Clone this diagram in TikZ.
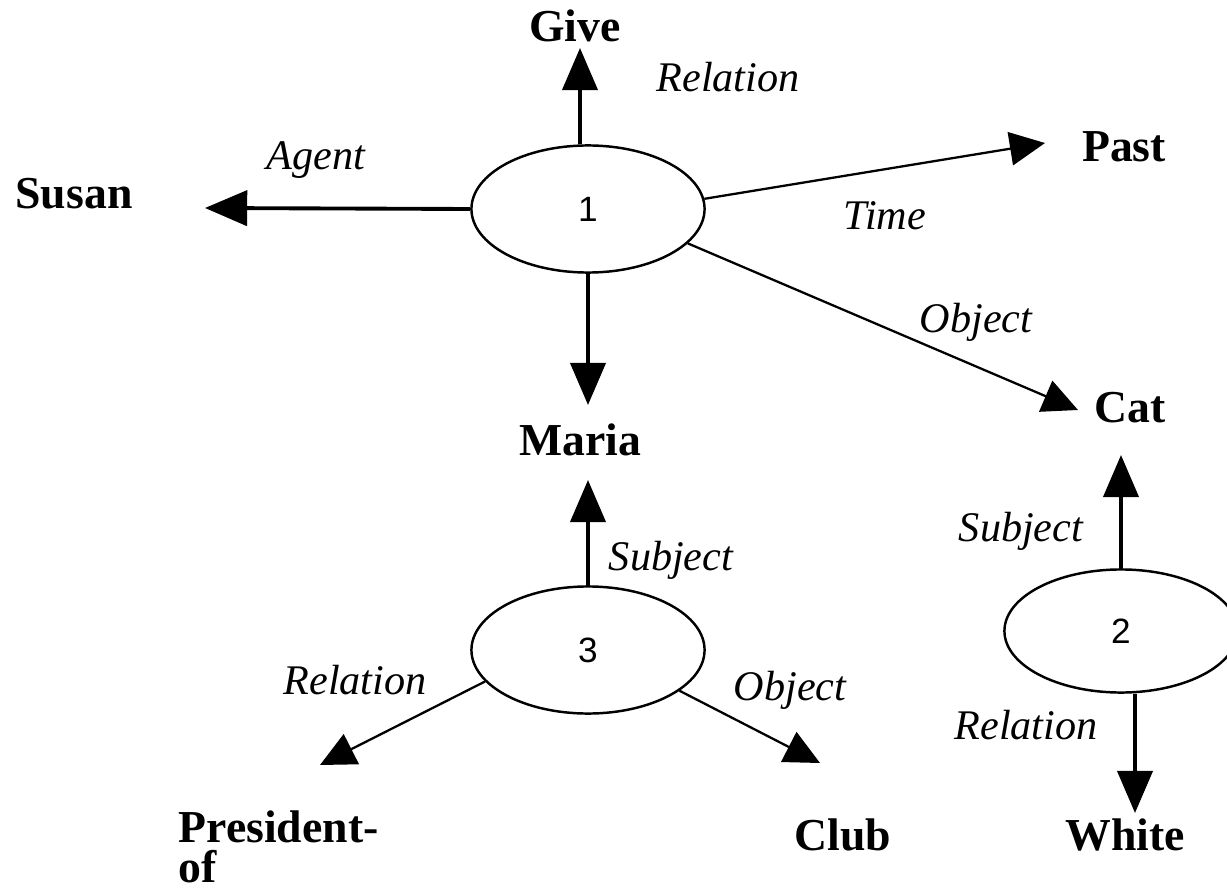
\documentclass[tikz,border=0pt]{standalone}
\usepackage{fontspec}
\setmainfont{Liberation Serif}
\newfontfamily\numfont{Liberation Sans}
\usetikzlibrary{shapes.geometric,arrows.meta}
\tikzset{
  word/.style={font=\fontsize{13}{11.5}\selectfont\bfseries, inner sep=0pt},
  lbl/.style={font=\fontsize{12}{14}\selectfont\itshape, inner sep=0pt},
  prop/.style={ellipse, draw, line width=0.7pt, minimum width=2.33cm, minimum height=1.27cm, inner sep=0pt, font=\numfont\fontsize{10}{12}\selectfont},
  arr/.style={-{Triangle[length=12pt,width=10pt]}, line width=1.1pt},
  darr/.style={-{Triangle[length=10pt,width=9.5pt]}, line width=0.65pt},
}
\begin{document}
\begin{tikzpicture}[x=0.01cm, y=-0.01cm]
\useasboundingbox[fill=white] (0,0) rectangle (1227,894);
% proposition ellipses
\node[prop] (e1) at (588,209) {1};
\node[prop] (e3) at (588,650) {3};
\node[prop, minimum height=1.23cm] (e2) at (1121,631) {2};
% concept words
\node[word] (give) at (575,26) {Give};
\node[word] (susan) at (74,194) {Susan};
\node[word] (past) at (1124,147) {Past};
\node[word] (maria) at (580,440) {Maria};
\node[word] (cat) at (1130,408) {Cat};
\node[word, anchor=north west, align=left] (pres) at (178,810) {President-\\of};
\node[word] (club) at (843,835) {Club};
\node[word] (white) at (1125,835) {White};
% link labels
\node[lbl] (lRelGive) at (728,77) {Relation};
\node[lbl] (lAgent) at (316,160) {Agent};
\node[lbl] (lTime) at (885,216) {Time};
\node[lbl] (lObjCat) at (976,322) {Object};
\node[lbl] (lSubjMaria) at (671,560) {Subject};
\node[lbl] (lRelPres) at (355,680) {Relation};
\node[lbl] (lObjClub) at (790,690) {Object};
\node[lbl] (lSubjCat) at (1021,531) {Subject};
\node[lbl] (lRelWhite) at (1026,725) {Relation};
% arrow tip points
\coordinate (tGive) at (580,48);
\coordinate (tSusan) at (205,208);
\coordinate (tPast) at (1045,143);
\coordinate (tCat) at (1078,410);
\coordinate (tMariaD) at (588,405);
\coordinate (tMariaU) at (588,480);
\coordinate (tPres) at (320,765);
\coordinate (tClub) at (820,763);
\coordinate (tCatU) at (1121,455);
\coordinate (tWhite) at (1135,813);
% connectors
\draw[arr] (e1.north -| tGive) -- (tGive);
\draw[arr] (e1.west) -- (tSusan);
\draw[darr] (e1.5) -- (tPast);
\draw[darr] (e1.-19) -- (tCat);
\draw[arr] (e1.south) -- (tMariaD);
\draw[arr] (e3.north) -- (tMariaU);
\draw[darr] (e3.197) -- (tPres);
\draw[darr] (e3.-24) -- (tClub);
\draw[arr] (e2.north) -- (tCatU);
\draw[arr] ([xshift=0.14cm]e2.south) -- (tWhite);
\end{tikzpicture}
\end{document}
